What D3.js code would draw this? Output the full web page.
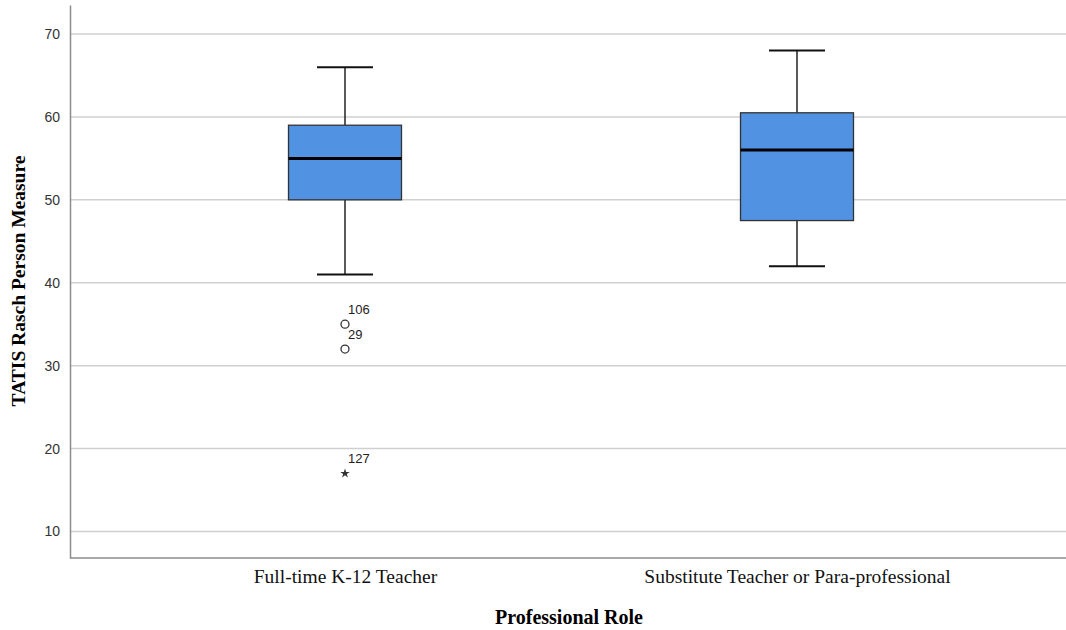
<!DOCTYPE html>
<html>
<head>
<meta charset="utf-8">
<script src="https://cdn.jsdelivr.net/npm/d3@7"></script>
<style>
  body { margin: 0; background: #fff; }
  .tick text { font-family: Arial, "Liberation Sans", sans-serif; font-size: 14px; fill: #333; }
</style>
</head>
<body>
<script>
// categories and box stats
var roles = ["Full-time K-12 Teacher", "Substitute Teacher or Para-professional"];
var lowWhisker = [41, 42];
var q1 = [50, 47.5];
var medians = [55, 56];
var q3 = [59, 60.5];
var highWhisker = [66, 68];
// outliers: role index, value, case label, kind
var outRole = [0, 0, 0];
var outValue = [35, 32, 17];
var outLabel = ["106", "29", "127"];
var outKind = ["circle", "circle", "star"];
var yTicks = [10, 20, 30, 40, 50, 60, 70];

var W = 1066, H = 630;
var plotLeft = 70, plotRight = 1066, plotTop = 5, plotBottom = 558;

var svg = d3.select("body").append("svg")
  .attr("width", W)
  .attr("height", H);

var y = d3.scaleLinear()
  .domain([6.8, 73.5])
  .range([plotBottom, plotTop]);

var x = d3.scalePoint()
  .domain(roles)
  .range([119, 1023])
  .padding(0.5);

// gridlines
svg.append("g").selectAll("line")
  .data(yTicks)
  .enter().append("line")
  .attr("x1", plotLeft).attr("x2", plotRight)
  .attr("y1", function(d) { return y(d); })
  .attr("y2", function(d) { return y(d); })
  .attr("stroke", "#d0d0d0")
  .attr("stroke-width", 1.5);

// y axis
var yAxis = d3.axisLeft(y).tickValues(yTicks).tickSize(0).tickPadding(10);
var gy = svg.append("g")
  .attr("transform", "translate(" + plotLeft + ",0)")
  .call(yAxis);
gy.select(".domain").attr("stroke", "#8c8c8c").attr("stroke-width", 1.5);

// x axis
var xAxis = d3.axisBottom(x).tickSize(0).tickPadding(11);
var gx = svg.append("g")
  .attr("transform", "translate(0," + plotBottom + ")")
  .call(xAxis);
gx.select(".domain").attr("d", "M" + plotLeft + ",0H" + plotRight)
  .attr("stroke", "#8c8c8c").attr("stroke-width", 1.5);
gx.selectAll(".tick text")
  .style("font-family", "'Liberation Serif', 'Times New Roman', serif")
  .style("font-size", "19.5px")
  .style("fill", "#111");

var boxW = 113, capW = 56;
var idx = d3.range(roles.length);

var boxes = svg.append("g").selectAll("g")
  .data(idx)
  .enter().append("g");

// whiskers
boxes.append("line")
  .attr("x1", function(i) { return x(roles[i]); })
  .attr("x2", function(i) { return x(roles[i]); })
  .attr("y1", function(i) { return y(highWhisker[i]); })
  .attr("y2", function(i) { return y(q3[i]); })
  .attr("stroke", "#222").attr("stroke-width", 1.5);
boxes.append("line")
  .attr("x1", function(i) { return x(roles[i]); })
  .attr("x2", function(i) { return x(roles[i]); })
  .attr("y1", function(i) { return y(q1[i]); })
  .attr("y2", function(i) { return y(lowWhisker[i]); })
  .attr("stroke", "#222").attr("stroke-width", 1.5);
// caps
[highWhisker, lowWhisker].forEach(function(arr) {
  boxes.append("line")
    .attr("x1", function(i) { return x(roles[i]) - capW / 2; })
    .attr("x2", function(i) { return x(roles[i]) + capW / 2; })
    .attr("y1", function(i) { return y(arr[i]); })
    .attr("y2", function(i) { return y(arr[i]); })
    .attr("stroke", "#111").attr("stroke-width", 2);
});
// box
boxes.append("rect")
  .attr("x", function(i) { return x(roles[i]) - boxW / 2; })
  .attr("width", boxW)
  .attr("y", function(i) { return y(q3[i]); })
  .attr("height", function(i) { return y(q1[i]) - y(q3[i]); })
  .attr("fill", "#5192e2")
  .attr("stroke", "#333").attr("stroke-width", 1.3);
// median
boxes.append("line")
  .attr("x1", function(i) { return x(roles[i]) - boxW / 2; })
  .attr("x2", function(i) { return x(roles[i]) + boxW / 2; })
  .attr("y1", function(i) { return y(medians[i]); })
  .attr("y2", function(i) { return y(medians[i]); })
  .attr("stroke", "#000").attr("stroke-width", 3);

// outliers
var outs = svg.append("g").selectAll("g")
  .data(d3.range(outValue.length))
  .enter().append("g")
  .attr("transform", function(i) {
    return "translate(" + x(roles[outRole[i]]) + "," + y(outValue[i]) + ")";
  });
outs.filter(function(i) { return outKind[i] == "circle"; })
  .append("circle")
  .attr("r", 4)
  .attr("fill", "none")
  .attr("stroke", "#333").attr("stroke-width", 1.3);
outs.filter(function(i) { return outKind[i] == "star"; })
  .append("path")
  .attr("d", d3.symbol().type(d3.symbolStar).size(28))
  .attr("fill", "#333");
outs.append("text")
  .attr("x", 3)
  .attr("y", -10)
  .text(function(i) { return outLabel[i]; })
  .style("font-family", "Arial, 'Liberation Sans', sans-serif")
  .style("font-size", "13px")
  .style("fill", "#222");

// axis titles
svg.append("text")
  .attr("transform", "translate(25," + 281 + ") rotate(-90)")
  .attr("text-anchor", "middle")
  .style("font-family", "'Liberation Serif', 'Times New Roman', serif")
  .style("font-weight", "bold")
  .style("font-size", "19.5px")
  .text("TATIS Rasch Person Measure");

svg.append("text")
  .attr("x", 569)
  .attr("y", 624)
  .attr("text-anchor", "middle")
  .style("font-family", "'Liberation Serif', 'Times New Roman', serif")
  .style("font-weight", "bold")
  .style("font-size", "20px")
  .text("Professional Role");
</script>
</body>
</html>
